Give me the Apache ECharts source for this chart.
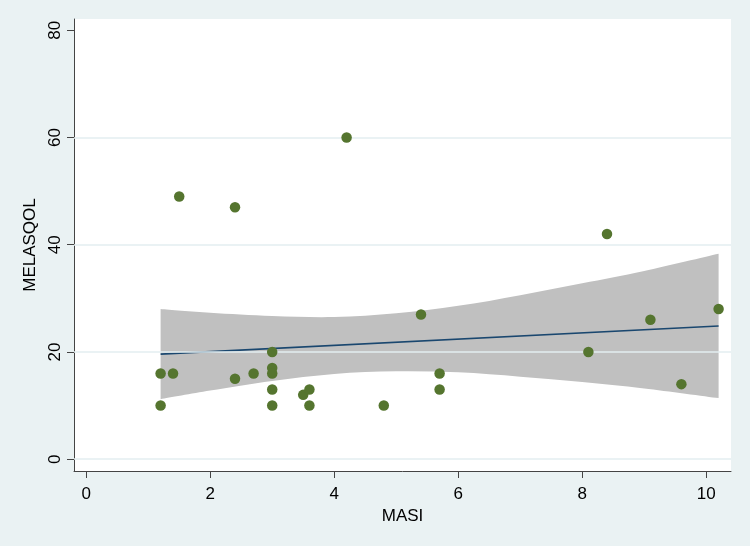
<!DOCTYPE html>
<html style="height: 100%">
<head>
    <meta charset="utf-8">
</head>
<body style="height: 100%; margin: 0; background: #EAF2F3">
<div id="container" style="width: 750px; height: 546px"></div>
<script src="https://cdn.jsdelivr.net/npm/echarts@6/dist/echarts.min.js"></script>
<script type="text/javascript">
    // scatter points (MASI, MELASQOL)
    var masi     = [1.2, 1.2, 1.4, 1.5, 2.4, 2.4, 2.7, 3.0, 3.0, 3.0, 3.0, 3.0, 3.5, 3.6, 3.6, 4.2, 4.8, 5.4, 5.7, 5.7, 8.1, 8.4, 9.1, 9.6, 10.2];
    var melasqol = [16, 10, 16, 49, 47, 15, 16, 20, 17, 16, 13, 10, 12, 13, 10, 60, 10, 27, 16, 13, 20, 42, 26, 14, 28];

    // fitted line and 95% CI band
    var fitX     = [1.2, 10.2];
    var fitY     = [19.6, 24.85];
    var ciX      = [1.2, 2, 3, 4, 5, 6, 7, 8, 9, 10.2];
    var ciUpper  = [28.0, 27.3, 26.7, 26.5, 27.2, 28.6, 30.6, 32.8, 35.1, 38.3];
    var ciLower  = [11.2, 12.8, 14.6, 15.9, 16.4, 16.2, 15.4, 14.4, 13.2, 11.4];

    var xTicks = [0, 2, 4, 6, 8, 10];
    var yTicks = [0, 20, 40, 60, 80];
    var yGrid  = [0, 20, 40, 60];

    var dom = document.getElementById("container");
    var myChart = echarts.init(dom);

    var points = [], fit = [], ciData = [];
    for (var i = 0; i < masi.length; i++) points.push([masi[i], melasqol[i]]);
    for (var i = 0; i < fitX.length; i++) fit.push([fitX[i], fitY[i]]);
    for (var i = 0; i < ciX.length; i++) ciData.push([ciX[i], ciLower[i], ciUpper[i]]);

    // smooth curve (catmull-rom -> bezier) through pixel points
    function curve(pts, start) {
        var d = start ? 'M' + pts[0][0] + ' ' + pts[0][1] : 'L' + pts[0][0] + ' ' + pts[0][1];
        for (var i = 0; i < pts.length - 1; i++) {
            var p0 = pts[Math.max(i - 1, 0)], p1 = pts[i], p2 = pts[i + 1], p3 = pts[Math.min(i + 2, pts.length - 1)];
            var c1 = [p1[0] + (p2[0] - p0[0]) / 6, p1[1] + (p2[1] - p0[1]) / 6];
            var c2 = [p2[0] - (p3[0] - p1[0]) / 6, p2[1] - (p3[1] - p1[1]) / 6];
            d += ' C' + c1[0] + ' ' + c1[1] + ' ' + c2[0] + ' ' + c2[1] + ' ' + p2[0] + ' ' + p2[1];
        }
        return d;
    }

    function renderBand(params, api) {
        if (params.dataIndex !== 0) return;
        var up = [], lo = [];
        for (var i = 0; i < ciX.length; i++) {
            up.push(api.coord([ciX[i], ciUpper[i]]));
            lo.push(api.coord([ciX[i], ciLower[i]]));
        }
        var d = curve(up, true) + ' ' + curve(lo.reverse(), false) + ' Z';
        return {
            type: 'path',
            shape: {pathData: d},
            style: {fill: '#C0C0C0', stroke: null}
        };
    }

    var font = 'Liberation Sans';
    var option = {
        backgroundColor: '#EAF2F3',
        animation: false,
        grid: {
            left: 74, top: 19, right: 19, bottom: 75,
            show: true, backgroundColor: '#ffffff', borderWidth: 0
        },
        xAxis: {
            type: 'value',
            min: -0.197, max: 10.4,
            name: 'MASI',
            nameLocation: 'middle',
            nameGap: 30,
            nameTextStyle: {fontFamily: font, fontSize: 17, color: '#000'},
            axisLine: {onZero: false, lineStyle: {color: '#444', width: 1}},
            axisTick: {length: 7, customValues: xTicks, lineStyle: {color: '#444'}},
            axisLabel: {customValues: xTicks, margin: 15, fontFamily: font, fontSize: 17, color: '#000'},
            splitLine: {show: false}
        },
        yAxis: {
            type: 'value',
            min: -2.2, max: 82.1,
            name: 'MELASQOL',
            nameLocation: 'middle',
            nameGap: 27,
            nameTextStyle: {fontFamily: font, fontSize: 17, color: '#000'},
            axisLine: {show: true, onZero: false, lineStyle: {color: '#444', width: 1}},
            axisTick: {show: true, length: 7, customValues: yTicks, lineStyle: {color: '#444'}},
            axisLabel: {customValues: yTicks, rotate: 90, margin: 10, fontFamily: font, fontSize: 17, color: '#000'},
            splitLine: {show: false}
        },
        series: [
            {
                name: 'grid',
                type: 'line',
                data: [],
                silent: true,
                z: 1,
                markLine: {
                    silent: true,
                    symbol: 'none',
                    label: {show: false},
                    lineStyle: {color: '#E3EEF0', width: 1.5, type: 'solid'},
                    data: yGrid.map(function (v) { return {yAxis: v}; })
                }
            },
            {
                name: 'ci',
                type: 'custom',
                data: ciData,
                renderItem: renderBand,
                silent: true,
                z: 2
            },
            {
                name: 'fit',
                type: 'line',
                data: fit,
                symbol: 'none',
                lineStyle: {color: '#1A476F', width: 1.6},
                silent: true,
                z: 3
            },
            {
                name: 'points',
                type: 'scatter',
                data: points,
                symbolSize: 10.5,
                itemStyle: {color: '#55752F', opacity: 1},
                z: 5
            }
        ]
    };
    myChart.setOption(option);
</script>
</body>
</html>
